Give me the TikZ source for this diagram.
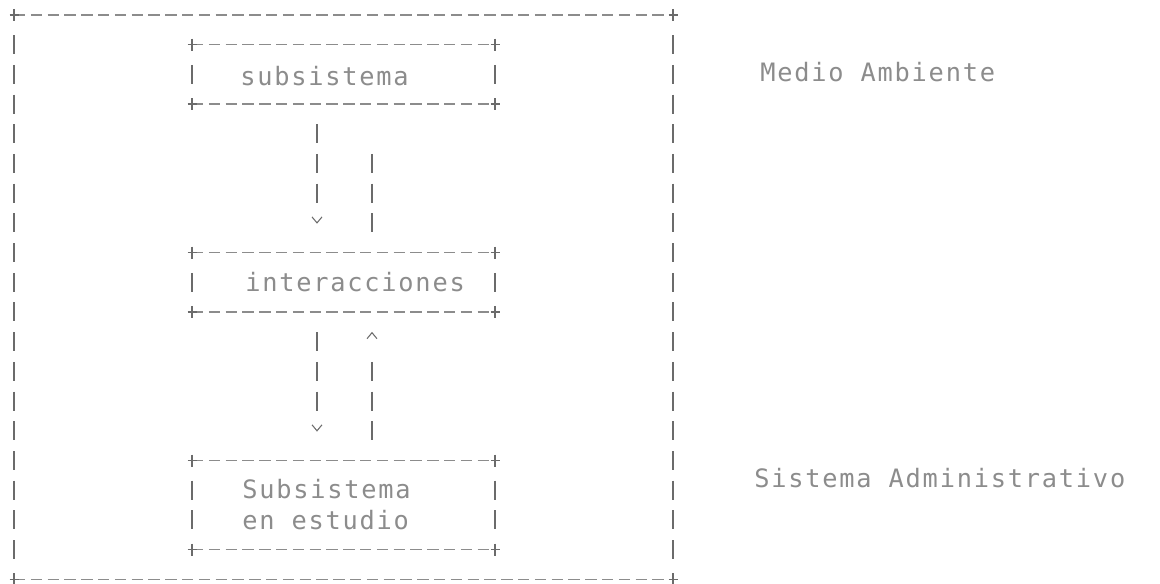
\documentclass[tikz,border=0pt]{standalone}
\usepackage{fontspec}
\newfontfamily\dotfont[LetterSpace=7]{DejaVu Sans Mono}
\usetikzlibrary{positioning,calc}
\definecolor{inkgray}{gray}{0.42}
\definecolor{rulegray}{gray}{0.55}
\definecolor{textgray}{gray}{0.55}

% y of a text row
\newcommand\ry[1]{\ytop+\h*#1}

\begin{document}
\begin{tikzpicture}[x=0.75pt, y=-0.75pt,
    dashrow/.style={rulegray, line width=0.9pt, dash pattern=on 8.6pt off 4pt},
    pipe/.style={inkgray, line width=1.6pt},
    chevron/.style={inkgray, line width=0.8pt},
    asciitext/.style={font=\dotfont\fontsize{19}{22}\selectfont, text=textgray, inner sep=0pt, anchor=mid west},
    crossmark/.pic={\draw[inkgray, line width=1pt] (-4.5,0) -- (4.5,0) (0,-6) -- (0,6);}]
  \useasboundingbox (0,0) rectangle (1160,584);

  % Define dimensions
  \def\h{29.7}
  \def\ytop{15}

  % Define points
  \coordinate (OL) at (14,0);
  \coordinate (OR) at (673,0);
  \coordinate (BL) at (192,0);
  \coordinate (BR) at (495,0);
  \coordinate (colL) at (317,0);
  \coordinate (colR) at (372,0);

  % Outer frame
  \draw[dashrow] (OL |- 0,{\ry{0}}) -- (OR |- 0,{\ry{0}});
  \draw[dashrow] (OL |- 0,{\ry{19}}) -- (OR |- 0,{\ry{19}});
  \foreach \p in {OL,OR} {
    \foreach \r in {0,19}
      \pic at (\p |- 0,{\ry{\r}}) {crossmark};
    \foreach \r in {1,...,18}
      \draw[pipe] ($(\p |- 0,{\ry{\r}})+(0,-9.5)$) -- ++(0,19);
  }

  % Draw boxes (top row / bottom row)
  \foreach \a/\b in {1/3,8/10,15/18} {
    \foreach \r in {\a,\b} {
      \draw[dashrow] (BL |- 0,{\ry{\r}}) -- (BR |- 0,{\ry{\r}});
      \pic at (BL |- 0,{\ry{\r}}) {crossmark};
      \pic at (BR |- 0,{\ry{\r}}) {crossmark};
    }
    \pgfmathtruncatemacro\s{\a+1}
    \pgfmathtruncatemacro\e{\b-1}
    \foreach \r in {\s,...,\e}
      \foreach \p in {BL,BR}
        \draw[pipe] ($(\p |- 0,{\ry{\r}})+(0,-9.5)$) -- ++(0,19);
  }

  % Draw paths between boxes
  \foreach \r in {4,5,6,11,12,13}
    \draw[pipe] ($(colL |- 0,{\ry{\r}})+(0,-9.5)$) -- ++(0,19);
  \foreach \r in {5,6,7,12,13,14}
    \draw[pipe] ($(colR |- 0,{\ry{\r}})+(0,-9.5)$) -- ++(0,19);

  % Arrow heads
  \foreach \r in {7,14}
    \draw[chevron] ($(colL |- 0,{\ry{\r}})+(-5,-6)$) -- ++(5,6) -- ++(5,-6);
  \draw[chevron] ($(colR |- 0,{\ry{11}})+(-5,-3)$) -- ++(5,-6) -- ++(5,6);

  % Label boxes
  \node[asciitext] (sub) at (240,83) {subsistema};
  \node[asciitext] (inter) at (245,289) {interacciones};
  \node[asciitext] (subest) at (242,496) {Subsistema};
  \node[asciitext] (est) at (242,527) {en estudio};

  % Label areas
  \node[asciitext] (medio) at (760,79) {Medio Ambiente};
  \node[asciitext] (sisadm) at (754,485) {Sistema Administrativo};
\end{tikzpicture}
\end{document}
